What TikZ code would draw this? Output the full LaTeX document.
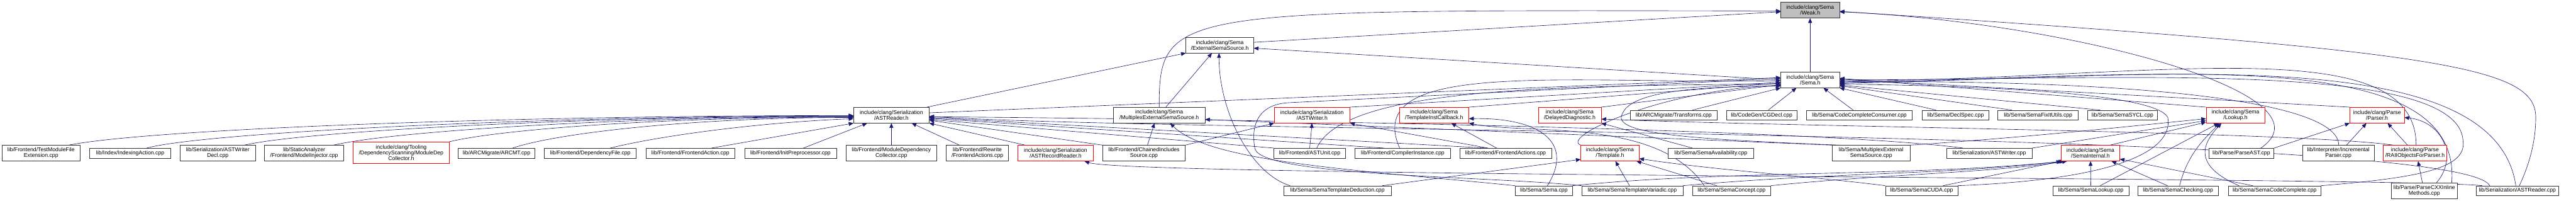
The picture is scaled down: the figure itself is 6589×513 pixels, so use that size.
\documentclass[tikz,border=0pt]{standalone}
\usepackage{fontspec}
\setmainfont{Liberation Sans}
\usetikzlibrary{arrows.meta}
\definecolor{dxblue}{RGB}{25,25,112}
\definecolor{dxred}{RGB}{255,0,0}
\definecolor{dxgrey}{RGB}{191,191,191}
\pgfdeclarelayer{background}
\pgfsetlayers{background,main}

\begin{document}
\begin{tikzpicture}[x=1pt, y=-1pt,
    srcfile/.style={draw=black!80, fill=white, line width=1pt, inner sep=0pt, align=center,
      minimum height=25pt, font=\fontsize{14}{14.5}\selectfont},
    tall/.style={minimum height=40pt},
    redfile/.style={srcfile, draw=dxred},
    rootfile/.style={srcfile, fill=dxgrey},
    incl/.style={draw=dxblue, line width=1pt, -{Triangle[length=12pt, width=10pt]}}]
    \useasboundingbox (0,0) rectangle (6589,513);

    % Header files at the top
    \node[rootfile, tall, minimum width=150pt] (weak) at (4630,26) {include/clang/Sema\\/Weak.h};
    \node[srcfile, tall, minimum width=173pt] (extsema) at (3120,115) {include/clang/Sema\\/ExternalSemaSource.h};
    \node[srcfile, tall, minimum width=150pt] (semah) at (4630,204) {include/clang/Sema\\/Sema.h};

    % Middle row
    \node[srcfile, tall, minimum width=193pt] (astrh) at (2280,294) {include/clang/Serialization\\/ASTReader.h};
    \node[srcfile, tall, minimum width=234pt] (mesh) at (2965,294) {include/clang/Sema\\/MultiplexExternalSemaSource.h};
    \node[redfile, tall, minimum width=193pt] (astwh) at (3356,294) {include/clang/Serialization\\/ASTWriter.h};
    \node[redfile, tall, minimum width=178pt] (ticb) at (3668,294) {include/clang/Sema\\/TemplateInstCallback.h};
    \node[redfile, tall, minimum width=161pt] (deldiag) at (4015,294) {include/clang/Sema\\/DelayedDiagnostic.h};
    \node[srcfile, minimum width=222pt] (transforms) at (4281,294) {lib/ARCMigrate/Transforms.cpp};
    \node[srcfile, minimum width=180pt] (cgdecl) at (4506,294) {lib/CodeGen/CGDecl.cpp};
    \node[srcfile, minimum width=271pt] (cccons) at (4756,294) {lib/Sema/CodeCompleteConsumer.cpp};
    \node[srcfile, minimum width=171pt] (declspec) at (5002,294) {lib/Sema/DeclSpec.cpp};
    \node[srcfile, minimum width=206pt] (fixit) at (5213,294) {lib/Sema/SemaFixItUtils.cpp};
    \node[srcfile, minimum width=178pt] (sycl) at (5429,294) {lib/Sema/SemaSYCL.cpp};
    \node[redfile, tall, minimum width=150pt] (lookup) at (5718,294) {include/clang/Sema\\/Lookup.h};
    \node[redfile, tall, minimum width=139pt] (parser) at (6080,294) {include/clang/Parse\\/Parser.h};

    % Lower row
    \node[srcfile, tall, minimum width=200pt] (tmfe) at (105,391) {lib/Frontend/TestModuleFile\\Extension.cpp};
    \node[srcfile, minimum width=207pt] (idxact) at (333,391) {lib/Index/IndexingAction.cpp};
    \node[srcfile, tall, minimum width=192pt] (astwdecl) at (557,391) {lib/Serialization/ASTWriter\\Decl.cpp};
    \node[srcfile, tall, minimum width=203pt] (modelinj) at (778,391) {lib/StaticAnalyzer\\/Frontend/ModelInjector.cpp};
    \node[redfile, minimum height=55pt, minimum width=245pt] (mdcoll) at (1026,390) {include/clang/Tooling\\/DependencyScanning/ModuleDep\\Collector.h};
    \node[srcfile, minimum width=196pt] (arcmt) at (1270,391) {lib/ARCMigrate/ARCMT.cpp};
    \node[srcfile, minimum width=235pt] (depfile) at (1510,391) {lib/Frontend/DependencyFile.cpp};
    \node[srcfile, minimum width=228pt] (feaction) at (1766,391) {lib/Frontend/FrontendAction.cpp};
    \node[srcfile, minimum width=235pt] (initpp) at (2022,391) {lib/Frontend/InitPreprocessor.cpp};
    \node[srcfile, tall, minimum width=232pt] (moddepcoll) at (2280,391) {lib/Frontend/ModuleDependency\\Collector.cpp};
    \node[srcfile, tall, minimum width=159pt] (rwfeactions) at (2500,391) {lib/Frontend/Rewrite\\/FrontendActions.cpp};
    \node[redfile, tall, minimum width=193pt] (astrecr) at (2700,391) {include/clang/Serialization\\/ASTRecordReader.h};
    \node[srcfile, tall, minimum width=211pt] (chained) at (2926,391) {lib/Frontend/ChainedIncludes\\Source.cpp};
    \node[srcfile, minimum width=183pt] (astunit) at (3350,391) {lib/Frontend/ASTUnit.cpp};
    \node[srcfile, minimum width=244pt] (compinst) at (3588,391) {lib/Frontend/CompilerInstance.cpp};
    \node[srcfile, minimum width=235pt] (feactions) at (3851,391) {lib/Frontend/FrontendActions.cpp};
    \node[redfile, tall, minimum width=149pt] (template) at (4118,391) {include/clang/Sema\\/Template.h};
    \node[srcfile, minimum width=219pt] (semaavail) at (4376,391) {lib/Sema/SemaAvailability.cpp};
    \node[srcfile, tall, minimum width=199pt] (mescpp) at (4786,391) {lib/Sema/MultiplexExternal\\SemaSource.cpp};
    \node[srcfile, minimum width=219pt] (astwcpp) at (5088,391) {lib/Serialization/ASTWriter.cpp};
    \node[redfile, tall, minimum width=149pt] (semaint) at (5347,391) {include/clang/Sema\\/SemaInternal.h};
    \node[srcfile, minimum width=166pt] (parseast) at (5733,391) {lib/Parse/ParseAST.cpp};
    \node[srcfile, tall, minimum width=183pt] (incparser) at (5981,391) {lib/Interpreter/Incremental\\Parser.cpp};
    \node[redfile, tall, minimum width=163pt] (raii) at (6177,391) {include/clang/Parse\\/RAIIObjectsForParser.h};

    % Bottom row
    \node[srcfile, minimum width=274pt] (semtdeduct) at (3421,487) {lib/Sema/SemaTemplateDeduction.cpp};
    \node[srcfile, minimum width=146pt] (semacpp) at (3949,487) {lib/Sema/Sema.cpp};
    \node[srcfile, minimum width=259pt] (semtvariadic) at (4175,487) {lib/Sema/SemaTemplateVariadic.cpp};
    \node[srcfile, minimum width=200pt] (semaconcept) at (4429,487) {lib/Sema/SemaConcept.cpp};
    \node[srcfile, minimum width=185pt] (semacuda) at (4915,487) {lib/Sema/SemaCUDA.cpp};
    \node[srcfile, minimum width=194pt] (semalookup) at (5348,487) {lib/Sema/SemaLookup.cpp};
    \node[srcfile, minimum width=207pt] (semachecking) at (5571,487) {lib/Sema/SemaChecking.cpp};
    \node[srcfile, minimum width=237pt] (semacc) at (5818,487) {lib/Sema/SemaCodeComplete.cpp};
    \node[srcfile, tall, minimum width=169pt] (parsecxx) at (6201,487) {lib/Parse/ParseCXXInline\\Methods.cpp};
    \node[srcfile, minimum width=212pt] (astrcpp) at (6439,487) {lib/Serialization/ASTReader.cpp};

    \begin{pgfonlayer}{background}
    % Weak.h
    \draw[incl] ([yshift=7pt]extsema.east) -- ([yshift=-4pt]weak.west);
    \draw[incl] (mesh.north) .. controls +(0,-254) and +(-1555,-3) .. ([yshift=-2pt]weak.west);
    \draw[incl] (semah) -- (weak);
    \draw[incl] ([xshift=50pt]parseast.north) .. controls +(197,-138) and +(595,28) .. ([yshift=-4pt]weak.east);
    \draw[incl] ([xshift=5pt]astrcpp.north) .. controls +(26,-55) and +(0,60) .. (6486,300)
        .. controls +(0,-130) and +(1545,101) .. ([yshift=-3pt]weak.east);

    % ExternalSemaSource.h
    \draw[incl] ([xshift=-6pt]astrh.north east) -- (extsema.south west);
    \draw[incl] ([xshift=17pt]mesh.north) -- ([xshift=-20pt]extsema.south);
    \draw[incl] ([xshift=-121pt]semtdeduct.north) .. controls +(-100,-30) and +(0,150) .. ([xshift=-2pt]extsema.south);
    \draw[incl] (semah.west) -- ([yshift=-8pt]extsema.east);

    % MultiplexExternalSemaSource.h
    \draw[incl] ([xshift=9pt]chained.north) -- ([xshift=-12pt]mesh.south);
    \draw[incl] (mescpp.north west) -- ([yshift=-11pt]mesh.east);
    \draw[incl] (semacpp.north west) .. controls +(-400,-40) and +(100,100) .. ([xshift=28pt]mesh.south);

    % ASTReader.h, fan from the left
    \draw[incl] ([xshift=71pt]tmfe.north) .. controls +(200,-40) and +(-900,0) .. ([yshift=-1pt]astrh.west);
    \draw[incl] ([xshift=42pt]idxact.north) .. controls +(150,-40) and +(-800,0) .. ([yshift=-2pt]astrh.west);
    \draw[incl] ([xshift=68pt]astwdecl.north) .. controls +(150,-35) and +(-700,0) .. ([yshift=-3pt]astrh.west);
    \draw[incl] ([xshift=75pt]modelinj.north) .. controls +(150,-35) and +(-600,0) .. ([yshift=-4pt]astrh.west);
    \draw[incl] (mdcoll.north east) .. controls +(120,-30) and +(-500,0) .. ([yshift=-5pt]astrh.west);
    \draw[incl] ([xshift=41pt]arcmt.north) .. controls +(120,-40) and +(-400,0) .. ([yshift=-6pt]astrh.west);
    \draw[incl] ([xshift=51pt]depfile.north) .. controls +(120,-30) and +(-250,10) .. ([yshift=-9pt]astrh.west);
    \draw[incl] ([xshift=54pt]feaction.north) -- (astrh.south west);
    \draw[incl] ([xshift=33pt]initpp.north) -- ([xshift=-62pt]astrh.south);
    \draw[incl] (moddepcoll) -- (astrh);
    \draw[incl] ([xshift=-46pt]rwfeactions.north) -- ([xshift=52pt]astrh.south);
    \draw[incl] ([xshift=-78pt]astrecr.north) -- (astrh.south east);

    % ASTReader.h, from the right
    \draw[incl] (chained.north west) -- ([yshift=-13pt]astrh.east);
    \draw[incl] (astunit.north west) -- ([yshift=-11pt]astrh.east);
    \draw[incl] ([xshift=-48pt]compinst.north) -- ([yshift=-8pt]astrh.east);
    \draw[incl] ([xshift=-50pt]feactions.north) -- ([yshift=-6pt]astrh.east);
    \draw[incl] ([xshift=-67pt]astwcpp.north) .. controls +(-300,-40) and +(1200,10) .. ([yshift=-4pt]astrh.east);
    \draw[incl] ([xshift=-71pt]astrcpp.north) .. controls +(-68,-145) and +(624,43) .. ([yshift=-3pt]astrh.east);
    \draw[incl] ([xshift=-90pt]astrcpp.north) .. controls +(-200,-22) and +(120,40) .. ([xshift=74pt]astrecr.south);

    % ASTWriter.h
    \draw[incl] (chained.north east) -- (astwh.south west);
    \draw[incl] (astunit.north) -- (astwh.south);
    \draw[incl] ([xshift=-45pt]feactions.north) -- (astwh.south east);

    % TemplateInstCallback.h
    \draw[incl] ([xshift=-23pt]feactions.north) -- ([xshift=44pt]ticb.south);
    \draw[incl] ([xshift=9pt]semacpp.north) .. controls +(72,-115) and +(173,-3) .. ([yshift=-9pt]ticb.east);
    \draw[incl] ([xshift=-70pt]semaconcept.north) .. controls +(-119,-175) and +(150,30) .. (ticb.south east);

    % DelayedDiagnostic.h
    \draw[incl] ([xshift=-47pt]semaavail.north) -- (deldiag.south east);
    \draw[incl] ([xshift=-55pt]raii.north) .. controls +(-250,-35) and +(500,20) .. ([yshift=-10pt]deldiag.east);

    % Template.h
    \draw[incl] ([xshift=115pt]semtdeduct.north) -- ([yshift=-16pt]template.west);
    \draw[incl] ([xshift=-7pt]semtvariadic.north) -- ([xshift=14pt]template.south);
    \draw[incl] ([xshift=-38pt]semaconcept.north) -- ([xshift=68pt]template.south);
    \draw[incl] (semacuda.north west) .. controls +(-200,-25) and +(200,30) .. ([yshift=-14pt]template.east);

    % SemaInternal.h
    \draw[incl] (semalookup) -- (semaint);
    \draw[incl] ([xshift=-27pt]semachecking.north) -- ([xshift=54pt]semaint.south);
    \draw[incl] ([xshift=-56pt]semacc.north) -- ([yshift=-15pt]semaint.east);
    \draw[incl] ([xshift=55pt]semacuda.north) -- (semaint.south west);
    \draw[incl] (semaconcept.north east) .. controls +(300,-30) and +(-200,30) .. ([xshift=-60pt]semaint.south);
    \draw[incl] (semacpp.north east) .. controls +(400,-40) and +(-400,40) .. ([xshift=-66pt]semaint.south);
    \draw[incl] (semtvariadic.north east) .. controls +(400,-35) and +(-300,35) .. ([xshift=-70pt]semaint.south);

    % Lookup.h
    \draw[incl] ([xshift=50pt]semaint.north) -- ([yshift=-18pt]lookup.west);
    \draw[incl] (mescpp.north east) .. controls +(300,-20) and +(-200,20) .. ([yshift=-9pt]lookup.west);
    \draw[incl] (astwcpp.north east) -- ([yshift=-14pt]lookup.west);
    \draw[incl] ([xshift=24pt]semalookup.north) -- ([xshift=-43pt]lookup.south);
    \draw[incl] ([xshift=4pt]semachecking.north) .. controls +(20,-80) and +(-40,40) .. ([xshift=-40pt]lookup.south);
    \draw[incl] ([xshift=-91pt]semacc.north) .. controls +(-127,-55) and +(-42,46) .. ([xshift=-36pt]lookup.south);

    % Parser.h and RAIIObjectsForParser.h
    \draw[incl] (parseast.north east) -- (parser.south west);
    \draw[incl] ([xshift=21pt]incparser.north) -- ([xshift=-27pt]parser.south);
    \draw[incl] ([xshift=-19pt]raii.north) -- ([xshift=27pt]parser.south);
    \draw[incl] ([xshift=31pt]parsecxx.north) .. controls +(58,-67) and +(96,10) .. ([yshift=-6pt]parser.east);
    \draw[incl] ([xshift=-5pt]parsecxx.north) -- ([xshift=8pt]raii.south);

    % Sema.h, from below and the left
    \draw[incl] ([xshift=48pt]transforms.north) -- (semah.south west);
    \draw[incl] ([xshift=17pt]cgdecl.north) -- ([xshift=-35pt]semah.south);
    \draw[incl] ([xshift=-16pt]cccons.north) -- ([xshift=34pt]semah.south);
    \draw[incl] ([xshift=-50pt]declspec.north) -- (semah.south east);
    \draw[incl] ([yshift=6pt]astrh.east) -- ([yshift=6pt]semah.west);
    \draw[incl] (astwh.north east) -- ([yshift=-6pt]semah.west);
    \draw[incl] (ticb.north east) -- ([yshift=-8pt]semah.west);
    \draw[incl] (deldiag.north east) -- ([yshift=-12pt]semah.west);
    \draw[incl] ([xshift=18pt]astunit.north) .. controls +(72,-158) and +(-555,6) .. ([yshift=-10pt]semah.west);
    \draw[incl] ([xshift=-8pt]compinst.north) .. controls +(-100,-228) and +(-555,9) .. ([yshift=-2pt]semah.west);
    \draw[incl] (template.north west) .. controls +(-54,-21) and +(-300,10) .. ([yshift=-14pt]semah.west);
    \draw[incl] ([xshift=-80pt]mescpp.north) .. controls +(-406,-16) and +(-30,50) .. (4150,290)
        .. controls +(20,-50) and +(-250,0) .. ([yshift=-16pt]semah.west);
    \draw[incl] (semtvariadic.north west) .. controls +(-246,-25) and +(20,70) .. (3210,380)
        .. controls +(-10,-50) and +(-90,3) .. (3300,262) -- ([yshift=4pt]semah.west);

    % Sema.h, from the right
    \draw[incl] ([xshift=-67pt]fixit.north) -- ([yshift=-15pt]semah.east);
    \draw[incl] ([xshift=-57pt]sycl.north) -- ([yshift=-13pt]semah.east);
    \draw[incl] (lookup.north west) -- ([yshift=4pt]semah.east);
    \draw[incl] (parser.north west) -- ([yshift=2pt]semah.east);
    \draw[incl] ([xshift=1pt]incparser.north) .. controls +(0,-121) and +(695,-6) .. ([yshift=-5pt]semah.east);
    \draw[incl] ([xshift=3pt]raii.north) .. controls +(0,-300) and +(795,-4) .. ([yshift=-3pt]semah.east);
    \draw[incl] ([xshift=70pt]parsecxx.north) .. controls +(29,-367) and +(795,-13) .. ([yshift=-7pt]semah.east);
    \draw[incl] ([xshift=-4pt]astrcpp.north) .. controls +(-55,-375) and +(795,-16) .. ([yshift=-9pt]semah.east);
    \draw[incl] (semacc.north east) .. controls +(250,-20) and +(10,70) .. (6300,360)
        .. controls +(-10,-210) and +(700,0) .. (semah.east);
    \draw[incl] (semacuda.north east) .. controls +(392,-15) and +(15,90) .. (5545,300)
        .. controls +(-30,-60) and +(400,4) .. ([yshift=-11pt]semah.east);
    \end{pgfonlayer}
\end{tikzpicture}
\end{document}
